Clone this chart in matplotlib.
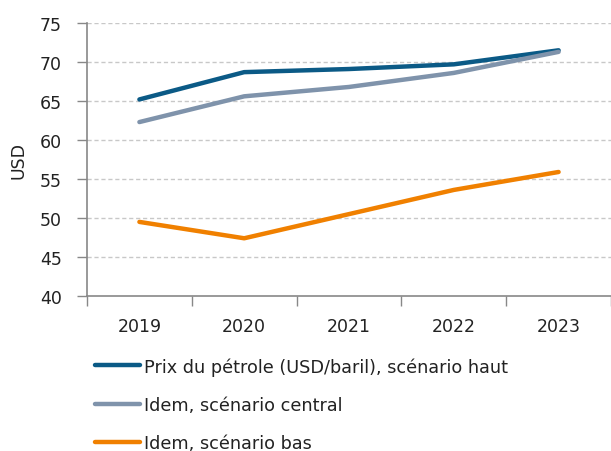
import matplotlib
matplotlib.use("Agg")
import matplotlib.pyplot as plt
import numpy as np

plt.rcParams['font.family'] = ['DejaVu Sans']

years = ["2019", "2020", "2021", "2022", "2023"]
haut = [65.2, 68.7, 69.1, 69.7, 71.5]
central = [62.3, 65.6, 66.8, 68.6, 71.3]
bas = [49.5, 47.4, 50.5, 53.6, 55.9]
labels = ["Prix du pétrole (USD/baril), scénario haut",
          "Idem, scénario central",
          "Idem, scénario bas"]
colors = ["#0b5a86", "#7f93ab", "#f08000"]
yticks = [40, 45, 50, 55, 60, 65, 70, 75]

fs = 12.5
fig = plt.figure(figsize=(6.11, 4.52), dpi=100)
ax = fig.add_axes([87/611, 1-297/452, 1-87/611, (297-24)/452])

x = np.arange(len(years))
handles = []
for vals, c, lab in zip([haut, central, bas], colors, labels):
    h, = ax.plot(x, vals, color=c, lw=3.2, solid_capstyle='round', label=lab)
    handles.append(h)

ax.set_xlim(-0.5, len(years) - 0.5)
ax.set_ylim(40, 75)
ax.set_yticks(yticks)
ax.set_yticklabels([str(v) for v in yticks])
for v in yticks[1:]:
    ax.axhline(v, color="#c8c8c8", lw=1, ls=(0, (3, 2)), zorder=0)

ax.set_xticks(np.arange(-0.5, len(years), 1))
ax.set_xticklabels([])
ax.set_xticks(x, minor=True)
ax.set_xticklabels(years, minor=True)
ax.tick_params(axis='x', which='major', direction='out', length=7, color="#888888", width=1)
ax.tick_params(axis='x', which='minor', length=0, pad=15, labelsize=fs, labelcolor="#222222")
ax.tick_params(axis='y', direction='out', length=7, color="#888888", width=1, pad=11,
               labelsize=fs, labelcolor="#222222")

for s in ['top', 'right']:
    ax.spines[s].set_visible(False)
for s in ['left', 'bottom']:
    ax.spines[s].set_color("#888888")
    ax.spines[s].set_linewidth(1.2)

ax.set_ylabel("USD", fontsize=fs, color="#222222", labelpad=9)

fig.legend(handles=handles, labels=labels, loc='upper left',
           bbox_to_anchor=(88/611, 1-351/452), frameon=False,
           fontsize=12.7, handlelength=2.55, handletextpad=0.2,
           labelspacing=1.15, borderaxespad=0, labelcolor="#222222")

fig.savefig("out.png", dpi=100)
